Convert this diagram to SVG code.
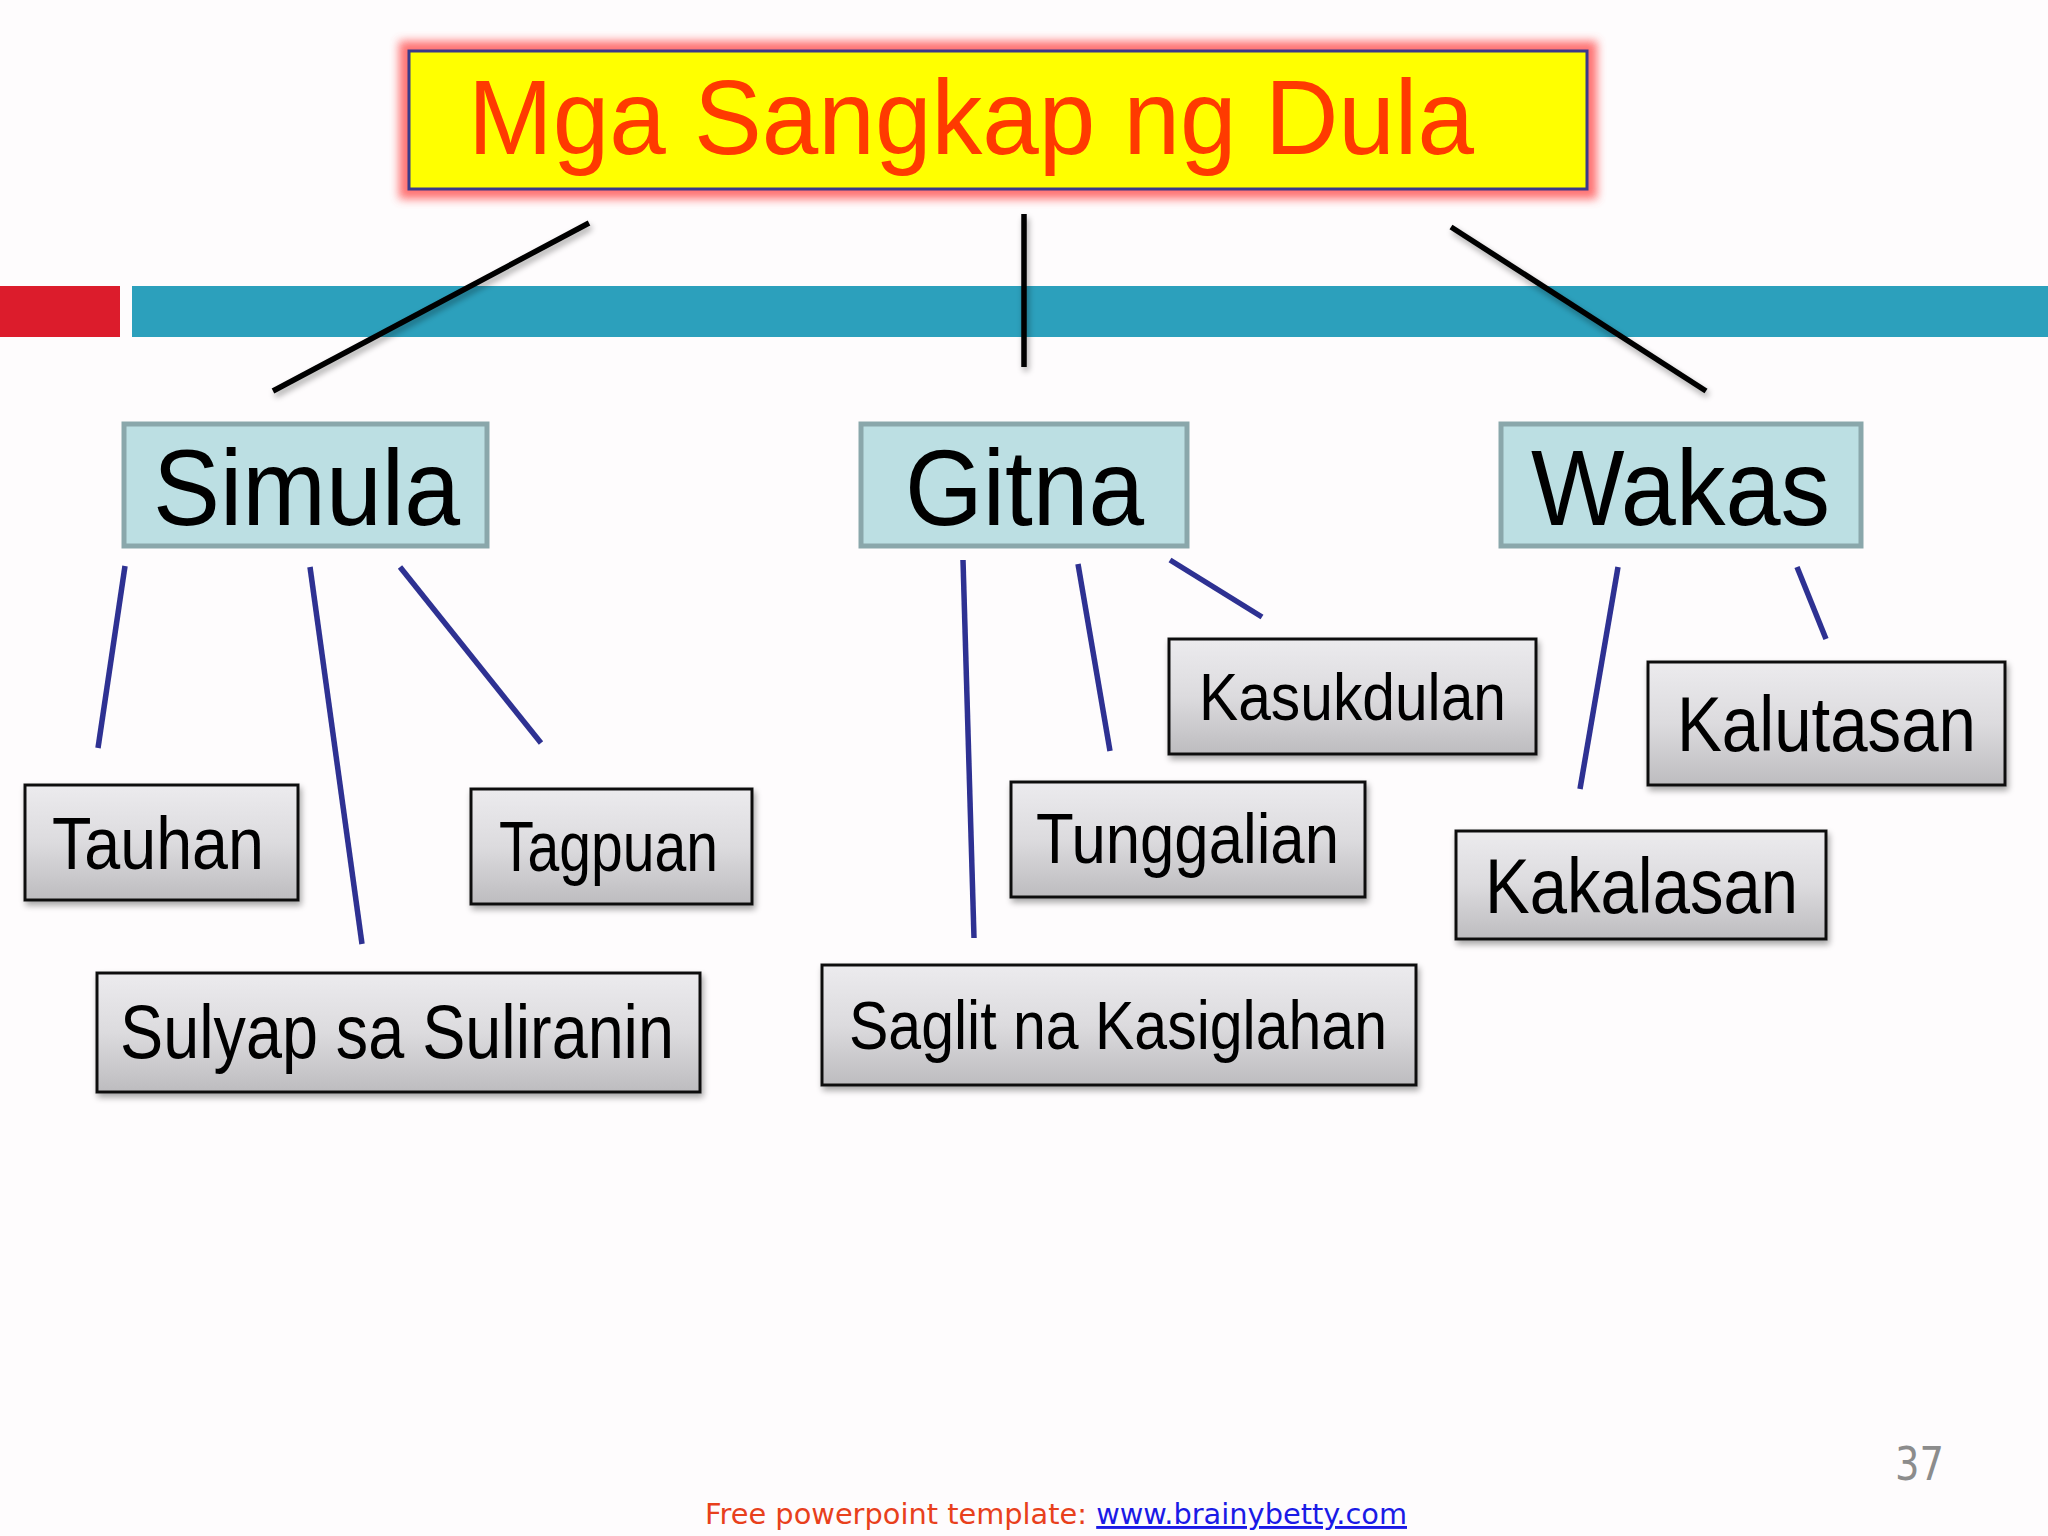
<svg xmlns="http://www.w3.org/2000/svg" width="2048" height="1536" viewBox="0 0 2048 1536">
<defs>
<linearGradient id="gray" x1="0" y1="0" x2="0" y2="1">
<stop offset="0" stop-color="#ECEBEE"/>
<stop offset="0.5" stop-color="#DCDBDE"/>
<stop offset="1" stop-color="#BDBCBF"/>
</linearGradient>
<filter id="glow" x="-10%" y="-30%" width="120%" height="160%">
<feGaussianBlur stdDeviation="5"/>
</filter>
<filter id="shadow" x="-10%" y="-10%" width="120%" height="130%">
<feGaussianBlur in="SourceAlpha" stdDeviation="3"/>
<feOffset dx="2" dy="4" result="b"/>
<feComponentTransfer><feFuncA type="linear" slope="0.35"/></feComponentTransfer>
<feMerge><feMergeNode/><feMergeNode in="SourceGraphic"/></feMerge>
</filter>
</defs>
<style>
.lbl{font-family:"Liberation Sans",Arial,sans-serif;fill:#000}
.l1{fill:#BCDFE3;stroke:#8AA7AB;stroke-width:5}
.l2{fill:url(#gray);stroke:#111;stroke-width:3}
.blk{stroke:#000;stroke-width:5.5;fill:none;stroke-linecap:butt}
.blu{stroke:#2E3192;stroke-width:5.5;fill:none}
</style>
<rect width="2048" height="1536" fill="#FEFCFD"/>
<rect x="0" y="286" width="120" height="51" fill="#DC1C2C"/>
<rect x="132" y="286" width="1916" height="51" fill="#2CA0BC"/>

<g id="title">
<rect x="399" y="41" width="1198" height="158" fill="#FF5A5A" opacity="0.85" filter="url(#glow)"/>
<rect x="409" y="51" width="1178" height="138" fill="#FFFF00" stroke="#3B3A8A" stroke-width="3"/>
<text x="468" y="154" font-family="Liberation Sans, Arial, sans-serif" font-size="106" fill="#FF3A00" textLength="1006" lengthAdjust="spacingAndGlyphs">Mga Sangkap ng Dula</text>
</g>

<g id="connectors">
<g filter="url(#shadow)">
<line class="blk" x1="589" y1="223" x2="273" y2="391"/>
<line class="blk" x1="1024" y1="214" x2="1024" y2="367"/>
<line class="blk" x1="1451" y1="227" x2="1706" y2="391"/>
</g>
<line class="blu" x1="125" y1="566" x2="98" y2="748"/>
<line class="blu" x1="310" y1="567" x2="362" y2="944"/>
<line class="blu" x1="400" y1="567" x2="541" y2="743"/>
<line class="blu" x1="963" y1="560" x2="974" y2="938"/>
<line class="blu" x1="1078" y1="564" x2="1110" y2="751"/>
<line class="blu" x1="1170" y1="560" x2="1262" y2="617"/>
<line class="blu" x1="1618" y1="567" x2="1580" y2="789"/>
<line class="blu" x1="1797" y1="567" x2="1826" y2="639"/>
</g>

<g id="simula">
<rect class="l1" x="124" y="424" width="363" height="122"/>
<text class="lbl" x="153" y="525" font-size="108" textLength="307" lengthAdjust="spacingAndGlyphs">Simula</text>
</g>
<g id="gitna">
<rect class="l1" x="861" y="424" width="326" height="122"/>
<text class="lbl" x="905" y="525" font-size="108" textLength="239" lengthAdjust="spacingAndGlyphs">Gitna</text>
</g>
<g id="wakas">
<rect class="l1" x="1501" y="424" width="360" height="122"/>
<text class="lbl" x="1531" y="525" font-size="108" textLength="299" lengthAdjust="spacingAndGlyphs">Wakas</text>
</g>

<g id="tauhan" filter="url(#shadow)">
<rect class="l2" x="25" y="785" width="273" height="115"/>
<text class="lbl" x="52" y="869" font-size="74" textLength="212" lengthAdjust="spacingAndGlyphs">Tauhan</text>
</g>
<g id="tagpuan" filter="url(#shadow)">
<rect class="l2" x="471" y="789" width="281" height="115"/>
<text class="lbl" x="499" y="871" font-size="70" textLength="219" lengthAdjust="spacingAndGlyphs">Tagpuan</text>
</g>
<g id="sulyap" filter="url(#shadow)">
<rect class="l2" x="97" y="973" width="603" height="119"/>
<text class="lbl" x="120" y="1058" font-size="76" textLength="554" lengthAdjust="spacingAndGlyphs">Sulyap sa Suliranin</text>
</g>
<g id="kasukdulan" filter="url(#shadow)">
<rect class="l2" x="1169" y="639" width="367" height="115"/>
<text class="lbl" x="1199" y="720" font-size="67" textLength="307" lengthAdjust="spacingAndGlyphs">Kasukdulan</text>
</g>
<g id="tunggalian" filter="url(#shadow)">
<rect class="l2" x="1011" y="782" width="354" height="115"/>
<text class="lbl" x="1036" y="863" font-size="70" textLength="303" lengthAdjust="spacingAndGlyphs">Tunggalian</text>
</g>
<g id="saglit" filter="url(#shadow)">
<rect class="l2" x="822" y="965" width="594" height="120"/>
<text class="lbl" x="849" y="1049" font-size="68" textLength="538" lengthAdjust="spacingAndGlyphs">Saglit na Kasiglahan</text>
</g>
<g id="kalutasan" filter="url(#shadow)">
<rect class="l2" x="1648" y="662" width="357" height="123"/>
<text class="lbl" x="1677" y="751" font-size="77" textLength="299" lengthAdjust="spacingAndGlyphs">Kalutasan</text>
</g>
<g id="kakalasan" filter="url(#shadow)">
<rect class="l2" x="1456" y="831" width="370" height="108"/>
<text class="lbl" x="1485" y="913" font-size="77" textLength="313" lengthAdjust="spacingAndGlyphs">Kakalasan</text>
</g>

<text x="1895" y="1480" font-family="DejaVu Sans, sans-serif" font-size="46" fill="#8C8C8C" textLength="49" lengthAdjust="spacingAndGlyphs">37</text>
<text x="705" y="1524" font-family="DejaVu Sans, sans-serif" font-size="29" textLength="702" lengthAdjust="spacingAndGlyphs"><tspan fill="#E8401C">Free powerpoint template: </tspan><tspan fill="#1A1AE6" text-decoration="underline">www.brainybetty.com</tspan></text>
</svg>
